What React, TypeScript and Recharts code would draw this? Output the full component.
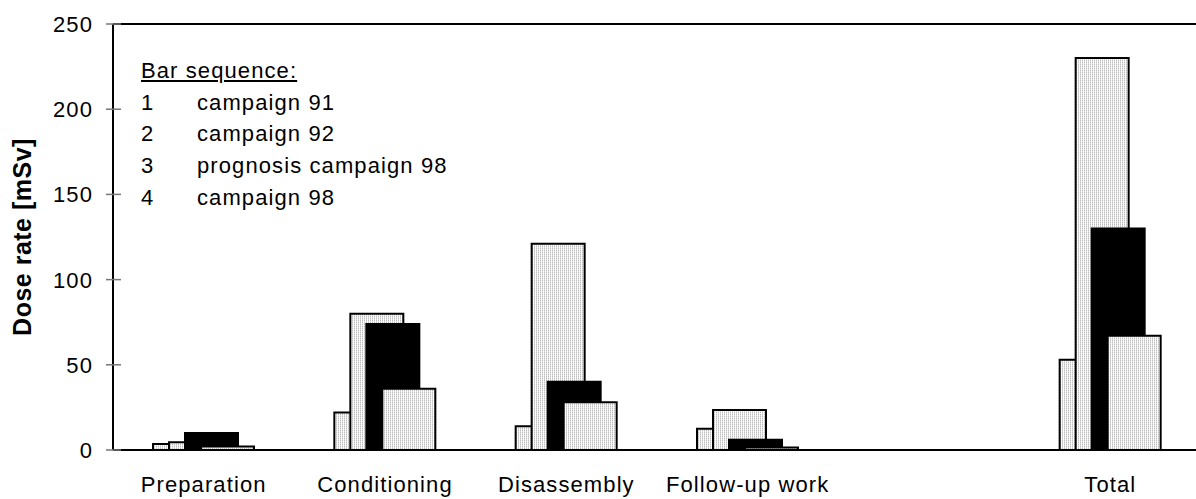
import React from "react";
import { Bar, BarChart, Legend, ReferenceLine, XAxis, YAxis } from "recharts";

// values (mSv)
const categories = ["Preparation", "Conditioning", "Disassembly", "Follow-up work", "", "Total"];
const campaign91 = [3.5, 22, 14, 12.5, null, 53];
const campaign92 = [4.5, 80, 121, 23.5, null, 230];
const prognosis98 = [10, 74, 40, 6, null, 130];
const campaign98 = [2, 36, 28, 1.5, null, 67];
const yTicks = [0, 50, 100, 150, 200, 250];
const legendRows = [
  ["1", "campaign 91"],
  ["2", "campaign 92"],
  ["3", "prognosis campaign 98"],
  ["4", "campaign 98"],
];

const data = categories.map((name, i) => ({
  name,
  c91: campaign91[i],
  c92: campaign92[i],
  p98: prognosis98[i],
  c98: campaign98[i],
}));

const FONT = '"Liberation Sans", Arial, sans-serif';

const XTick = (props: any) => {
  const { x, y, payload } = props;
  if (!payload.value) return null;
  return (
    <text x={x} y={y + 42} textAnchor="middle" fill="#000" fontFamily={FONT} fontSize={22} letterSpacing={1.1}>
      {payload.value}
    </text>
  );
};

const YTick = (props: any) => {
  const { x, y, payload } = props;
  return (
    <g>
      <line x1={x - 7} x2={x + 8} y1={y} y2={y} stroke="#777" strokeWidth={1.5} />
      <text x={x - 20} y={y + 8} textAnchor="end" fill="#000" fontFamily={FONT} fontSize={22} letterSpacing={1.1}>
        {payload.value}
      </text>
    </g>
  );
};

const YTitle = (props: any) => {
  const { viewBox } = props;
  const cy = viewBox.y + viewBox.height / 2;
  return (
    <text
      x={22}
      y={cy}
      transform={`rotate(-90, 22, ${cy})`}
      textAnchor="middle"
      dominantBaseline="central"
      fontFamily={FONT}
      fontWeight="bold"
      fontSize={25}
      letterSpacing={0.5}
      fill="#000"
    >
      Dose rate [mSv]
    </text>
  );
};

const renderLegend = () => (
  <div style={{ fontFamily: FONT, fontSize: 22, letterSpacing: 1.1, lineHeight: "31.7px", color: "#000", textAlign: "left" }}>
    <div style={{ textDecoration: "underline" }}>Bar sequence:</div>
    {legendRows.map(([n, label]) => (
      <div key={n} style={{ whiteSpace: "nowrap" }}>
        <span style={{ display: "inline-block", width: 56 }}>{n}</span>
        {label}
      </div>
    ))}
  </div>
);

export default function App() {
  return (
    <div style={{ position: "absolute", left: 0, top: 0, width: 1196, height: 499, overflow: "hidden", background: "#fff" }}>
      <BarChart
        width={1210}
        height={499}
        data={data}
        margin={{ top: 24, right: 9, left: 0, bottom: 0 }}
        barSize={53}
        barGap={-37}
        barCategoryGap={0}
      >
        <defs>
          <pattern id="stipple" patternUnits="userSpaceOnUse" width={2} height={2}>
            <rect x={0} y={0} width={2} height={2} fill="#fcfcfc" />
            <rect x={0} y={0} width={1} height={1} fill="#bdbdbd" />
            <rect x={0} y={1} width={1} height={1} fill="#dcdcdc" />
          </pattern>
        </defs>
        <XAxis
          dataKey="name"
          height={49}
          interval={0}
          tickLine={false}
          tickSize={0}
          tickMargin={0}
          axisLine={{ stroke: "#000", strokeWidth: 2 }}
          tick={<XTick />}
        />
        <YAxis
          width={113}
          domain={[0, 250]}
          ticks={yTicks}
          interval={0}
          tickLine={false}
          tickSize={0}
          tickMargin={0}
          axisLine={{ stroke: "#000", strokeWidth: 2 }}
          tick={<YTick />}
          label={<YTitle />}
        />
        <ReferenceLine y={250} stroke="#000" strokeWidth={2} />
        <Legend
          layout="horizontal"
          verticalAlign="middle"
          align="center"
          content={renderLegend}
          wrapperStyle={{ position: "absolute", left: 141, top: 55, width: 420, height: 170 }}
        />
        <Bar dataKey="c91" name="campaign 91" fill="url(#stipple)" stroke="#000" strokeWidth={2} isAnimationActive={false} />
        <Bar dataKey="c92" name="campaign 92" fill="url(#stipple)" stroke="#000" strokeWidth={2} isAnimationActive={false} />
        <Bar dataKey="p98" name="prognosis campaign 98" fill="#000" stroke="#000" strokeWidth={2} isAnimationActive={false} />
        <Bar dataKey="c98" name="campaign 98" fill="url(#stipple)" stroke="#000" strokeWidth={2} isAnimationActive={false} />
      </BarChart>
    </div>
  );
}
